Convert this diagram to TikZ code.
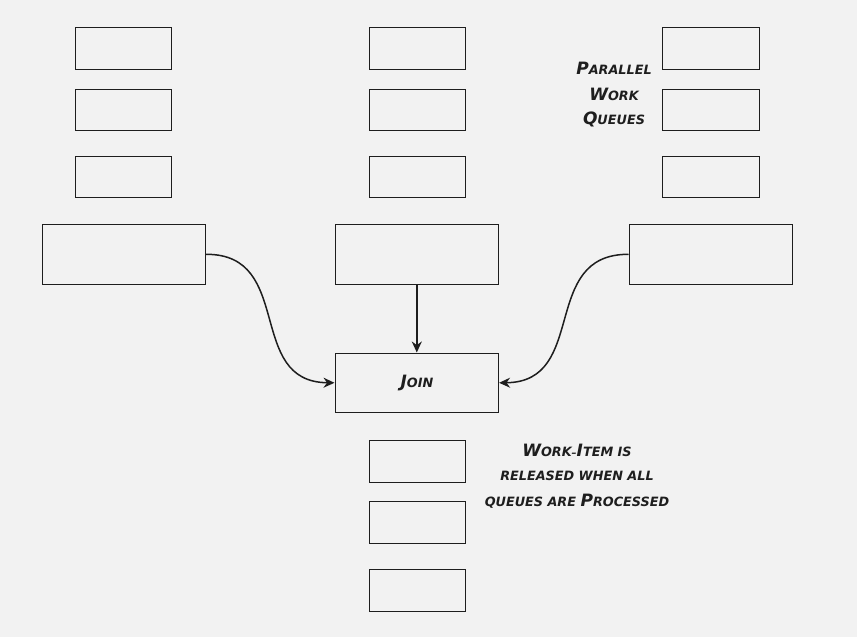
\documentclass[tikz,border=0pt]{standalone}
\usepackage{fontspec}
\setmainfont{DejaVu Sans}
\usetikzlibrary{arrows.meta}
\definecolor{bg}{HTML}{F2F2F2}
\definecolor{ink}{HTML}{1E1E1E}
\newcommand{\Bg}[1]{{\fontsize{17}{20}\selectfont #1}}
\newcommand{\Sm}[1]{{\fontsize{12.8}{20}\selectfont #1}}
\tikzset{
  box/.style={draw=ink, line width=1.6pt, fill=bg, inner sep=0pt, anchor=north west},
  lbl/.style={font=\bfseries\itshape, text=ink, align=center, inner sep=0pt},
  conn/.style={draw=ink, line width=1.5pt, -{Stealth[length=11pt,width=10pt]}}
}
\begin{document}
\begin{tikzpicture}[x=1pt,y=-1pt]
\fill[bg] (0,0) rectangle (857,637);
\useasboundingbox (0,0) rectangle (857,637);
% left column
\node[box, minimum width=96pt, minimum height=42pt] (l1) at (74.5,26.5) {};
\node[box, minimum width=96pt, minimum height=41pt] (l2) at (74.5,88.5) {};
\node[box, minimum width=96pt, minimum height=41pt] (l3) at (74.5,155.5) {};
\node[box, minimum width=163pt, minimum height=60pt] (l4) at (41.5,223.5) {};
% middle column
\node[box, minimum width=96pt, minimum height=42pt] (m1) at (368.5,26.5) {};
\node[box, minimum width=96pt, minimum height=41pt] (m2) at (368.5,88.5) {};
\node[box, minimum width=96pt, minimum height=41pt] (m3) at (368.5,155.5) {};
\node[box, minimum width=163pt, minimum height=60pt] (m4) at (334.5,223.5) {};
% right column
\node[box, minimum width=97pt, minimum height=42pt] (r1) at (661.5,26.5) {};
\node[box, minimum width=97pt, minimum height=41pt] (r2) at (661.5,88.5) {};
\node[box, minimum width=97pt, minimum height=41pt] (r3) at (661.5,155.5) {};
\node[box, minimum width=163pt, minimum height=60pt] (r4) at (628.5,223.5) {};
% join
\node[box, minimum width=163pt, minimum height=59pt] (join) at (334.5,352.5) {};
\node[lbl] (jointxt) at (417,383) {\Bg{J}\Sm{OIN}};
% bottom column
\node[box, minimum width=96pt, minimum height=42pt] (b1) at (368.5,439.5) {};
\node[box, minimum width=96pt, minimum height=42pt] (b2) at (368.5,500.5) {};
\node[box, minimum width=96pt, minimum height=42pt] (b3) at (368.5,568.5) {};
% labels
\node[lbl] (pwq1) at (614,68) {\Bg{P}\Sm{ARALLEL}};
\node[lbl] (pwq2) at (614,94) {\Bg{W}\Sm{ORK}};
\node[lbl] (pwq3) at (614,119) {\Bg{Q}\Sm{UEUES}};
\node[lbl] (wi1) at (577,450) {\Bg{W}\Sm{ORK}--\Bg{I}\Sm{TEM IS}};
\node[lbl] (wi2) at (577,476) {\Sm{RELEASED WHEN ALL}};
\node[lbl] (wi3) at (577,501) {\Sm{QUEUES ARE }\Bg{P}\Sm{ROCESSED}};
% connectors
\draw[conn] (l4.east) .. controls (295,254) and (245,382) .. (join.west);
\draw[conn] (m4.south) -- (join.north);
\draw[conn] (r4.west) .. controls (539,254) and (589,382) .. (join.east);
\end{tikzpicture}
\end{document}
